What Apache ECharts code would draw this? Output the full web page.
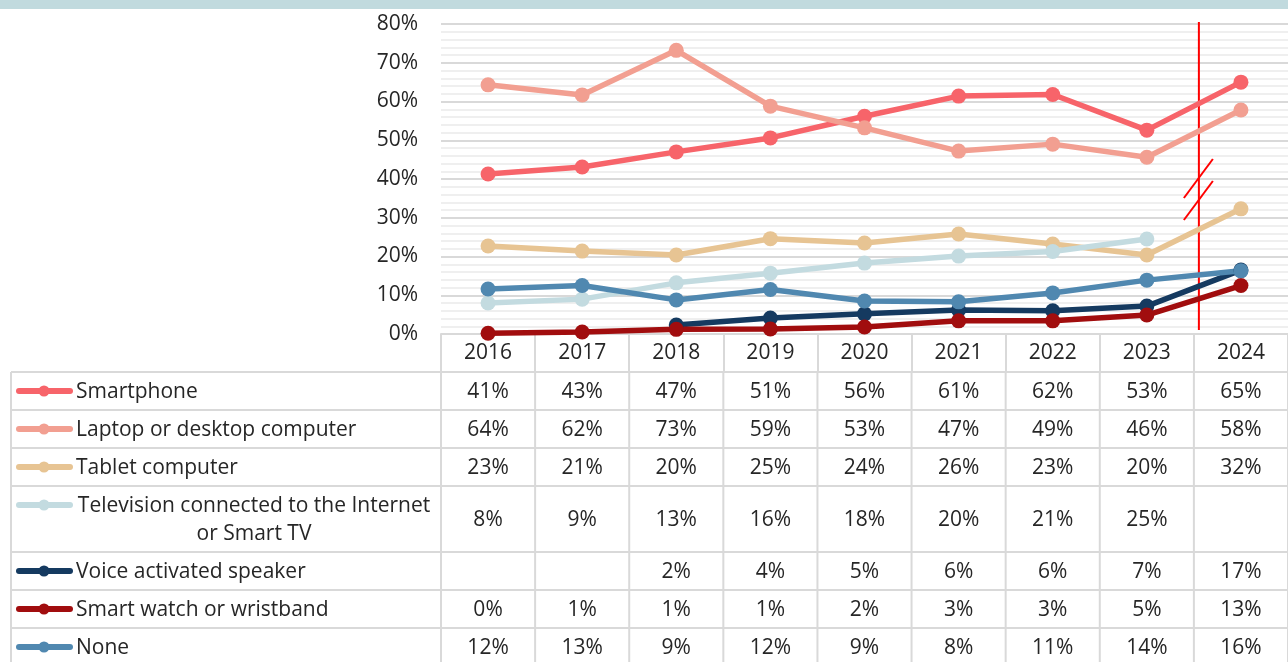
<!DOCTYPE html>
<html lang="en">
  <head>
    <meta charset="UTF-8" />
    <script src="https://cdn.jsdelivr.net/npm/echarts@6/dist/echarts.min.js"></script>
    <title>Devices</title>
    <style>
      html, body { margin: 0; padding: 0; background: #fff; }
      #container { width: 1288px; height: 662px; }
    </style>
  </head>
  <body>
    <div id="container"></div>
    <script>
      const years = ["2016", "2017", "2018", "2019", "2020", "2021", "2022", "2023", "2024"];

      const names = [
        "Smartphone",
        "Laptop or desktop computer",
        "Tablet computer",
        "Television connected to the Internet\nor Smart TV",
        "Voice activated speaker",
        "Smart watch or wristband",
        "None",
      ];

      const smartphone = [41.3, 43.1, 47.0, 50.6, 56.2, 61.4, 61.8, 52.6, 65.0];
      const laptop = [64.3, 61.7, 73.2, 58.8, 53.2, 47.2, 49.0, 45.6, 57.8];
      const tablet = [22.7, 21.4, 20.4, 24.6, 23.5, 25.8, 23.2, 20.4, 32.3];
      const smartTv = [8.0, 9.0, 13.2, 15.7, 18.3, 20.1, 21.3, 24.5, null];
      const speaker = [null, null, 2.3, 4.1, 5.2, 6.2, 6.0, 7.2, 16.5];
      const watch = [0.2, 0.5, 1.2, 1.3, 1.8, 3.4, 3.4, 4.9, 12.5];
      const none = [11.6, 12.5, 8.8, 11.5, 8.5, 8.3, 10.6, 13.9, 16.3];

      const allValues = [smartphone, laptop, tablet, smartTv, speaker, watch, none];
      const colors = ["#f7646a", "#f29f91", "#e7c493", "#c3dbe0", "#153a60", "#a10d0e", "#5088b0"];

      const font = '"Open Sans", "Noto Sans", sans-serif';
      const fontSize = 21;
      const textColor = "#262626";
      const gridColor = "#d9d9d9";

      const myChart = echarts.init(document.getElementById("container"));

      const option = {
        animation: false,
        grid: { left: 441, right: 0, top: 24, bottom: 328 },
        xAxis: {
          type: "category",
          data: years,
          boundaryGap: true,
          axisLine: { lineStyle: { color: gridColor, width: 2 } },
          axisTick: { show: true, length: 38, lineStyle: { color: gridColor, width: 2 } },
          axisLabel: { color: textColor, fontSize: fontSize, fontFamily: font, margin: 9 },
        },
        yAxis: {
          type: "value",
          min: 0,
          max: 80,
          interval: 10,
          axisLabel: { formatter: "{value}%", color: textColor, fontSize: fontSize, fontFamily: font, margin: 23, padding: [3, 0, 0, 0] },
          axisLine: { show: false },
          axisTick: { show: false },
          splitLine: { lineStyle: { color: gridColor, width: 2 } },
          minorTick: { show: false, splitNumber: 5 },
          minorSplitLine: { show: true, lineStyle: { color: "#efefef", width: 2 } },
        },
        series: allValues.map((vals, i) => ({
          name: names[i],
          type: "line",
          data: vals,
          symbol: "circle",
          symbolSize: 15,
          lineStyle: { width: 5.5, color: colors[i] },
          itemStyle: { color: colors[i] },
          connectNulls: false,
          silent: true,
        })),
      };

      myChart.setOption(option);

      // data table + annotations under / over the plot
      const cx = years.map((y, i) => myChart.convertToPixel({ xAxisIndex: 0 }, i));
      const step = cx[1] - cx[0];
      const bounds = [cx[0] - step / 2].concat(cx.map((c) => c + step / 2));
      const rowHeights = [38, 38, 38, 66, 38, 38, 38];
      const tableTop = 372;
      const tableLeft = 11;

      const graphic = [];
      graphic.push({ type: "rect", shape: { x: 0, y: 0, width: 1288, height: 9 }, style: { fill: "#c1dade" } });

      let y = tableTop;
      const rowY = [];
      graphic.push({ type: "line", shape: { x1: tableLeft, y1: y, x2: 1288, y2: y }, style: { stroke: gridColor, lineWidth: 2 } });
      rowHeights.forEach((h) => {
        rowY.push(y + h / 2);
        y += h;
        graphic.push({ type: "line", shape: { x1: tableLeft, y1: y, x2: 1288, y2: y }, style: { stroke: gridColor, lineWidth: 2 } });
      });
      const tableBottom = y;
      graphic.push({ type: "line", shape: { x1: tableLeft, y1: tableTop, x2: tableLeft, y2: tableBottom }, style: { stroke: gridColor, lineWidth: 2 } });
      bounds.forEach((bx) => {
        graphic.push({ type: "line", shape: { x1: bx, y1: tableTop, x2: bx, y2: tableBottom }, style: { stroke: gridColor, lineWidth: 2 } });
      });

      names.forEach((name, i) => {
        const twoLines = name.indexOf("\n") >= 0;
        const my = twoLines ? rowY[i] - 14 : rowY[i];
        graphic.push({ type: "line", shape: { x1: 19, y1: my, x2: 70, y2: my }, style: { stroke: colors[i], lineWidth: 6, lineCap: "round" } });
        graphic.push({ type: "circle", shape: { cx: 44, cy: my, r: 5.5 }, style: { fill: colors[i] } });
        graphic.push({
          type: "text",
          style: {
            text: name,
            x: twoLines ? 254 : 76,
            y: rowY[i] + 1,
            align: twoLines ? "center" : "left",
            verticalAlign: "middle",
            fontSize: fontSize,
            fontFamily: font,
            lineHeight: 28,
            fill: textColor,
          },
        });
        allValues[i].forEach((v, j) => {
          if (v === null) return;
          graphic.push({
            type: "text",
            style: {
              text: Math.round(v) + "%",
              x: cx[j],
              y: rowY[i] + 1,
              align: "center",
              verticalAlign: "middle",
              fontSize: fontSize,
              fontFamily: font,
              fill: textColor,
            },
          });
        });
      });

      // red break marker between 2023 and 2024
      const rx = bounds[8] + 5;
      graphic.push({ type: "line", shape: { x1: rx, y1: 22, x2: rx, y2: 330 }, style: { stroke: "#ff0000", lineWidth: 2 } });
      graphic.push({ type: "line", shape: { x1: rx - 15, y1: 198, x2: rx + 14, y2: 159 }, style: { stroke: "#ff0000", lineWidth: 2 } });
      graphic.push({ type: "line", shape: { x1: rx - 15, y1: 220, x2: rx + 14, y2: 181 }, style: { stroke: "#ff0000", lineWidth: 2 } });

      myChart.setOption({ graphic: graphic });
    </script>
  </body>
</html>
